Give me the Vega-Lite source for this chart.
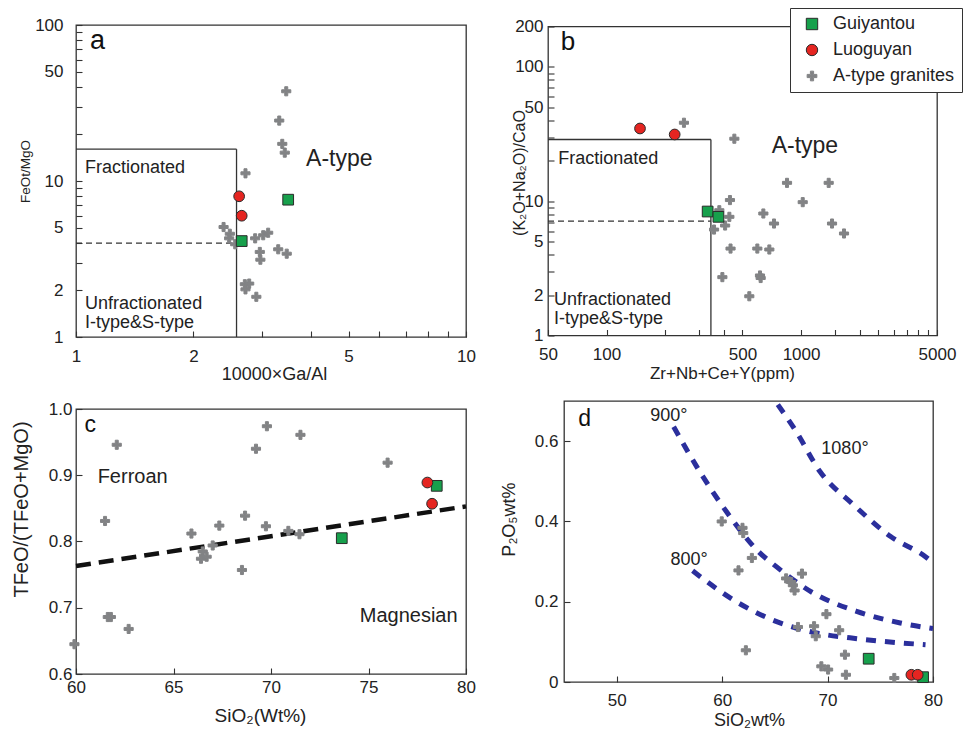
{
  "$schema": "https://vega.github.io/schema/vega-lite/v6.json",
  "background": "white",
  "padding": {"left": 10, "top": 7, "right": 0, "bottom": 0},
  "config": {
    "font": "Liberation Sans",
    "view": {"stroke": "#333", "strokeWidth": 1.3},
    "axis": {"domain": false, "grid": false, "tickColor": "#333", "tickWidth": 1.1, "tickSize": -6, "labelColor": "#222", "titleColor": "#222", "labelFontSize": 17, "labelFlush": false, "labelOverlap": false, "titleFontWeight": "normal", "labelBound": false},
    "legend": {"orient": "none", "legendX": 714, "legendY": -17, "title": null, "labelFontSize": 18, "labelColor": "#222", "symbolSize": 130, "symbolStrokeWidth": 1, "rowPadding": 8, "padding": 7, "strokeColor": "#333", "fillColor": "white", "labelOffset": 12, "symbolOffset": 6, "cornerRadius": 0}
  },
  "datasets": {
    "a_pts": [
      {"x": 3.46, "y": 37.6, "g": "A-type granites"},
      {"x": 3.32, "y": 24.4, "g": "A-type granites"},
      {"x": 3.38, "y": 17.3, "g": "A-type granites"},
      {"x": 3.43, "y": 15.2, "g": "A-type granites"},
      {"x": 2.72, "y": 11.2, "g": "A-type granites"},
      {"x": 2.39, "y": 5.07, "g": "A-type granites"},
      {"x": 2.48, "y": 4.59, "g": "A-type granites"},
      {"x": 2.47, "y": 4.29, "g": "A-type granites"},
      {"x": 2.56, "y": 3.93, "g": "A-type granites"},
      {"x": 2.88, "y": 4.29, "g": "A-type granites"},
      {"x": 3.02, "y": 4.49, "g": "A-type granites"},
      {"x": 3.11, "y": 4.66, "g": "A-type granites"},
      {"x": 2.96, "y": 3.51, "g": "A-type granites"},
      {"x": 2.97, "y": 3.13, "g": "A-type granites"},
      {"x": 3.30, "y": 3.65, "g": "A-type granites"},
      {"x": 3.47, "y": 3.42, "g": "A-type granites"},
      {"x": 2.71, "y": 2.18, "g": "A-type granites"},
      {"x": 2.78, "y": 2.20, "g": "A-type granites"},
      {"x": 2.72, "y": 2.02, "g": "A-type granites"},
      {"x": 2.90, "y": 1.81, "g": "A-type granites"},
      {"x": 3.50, "y": 7.59, "g": "Guiyantou"},
      {"x": 2.66, "y": 4.12, "g": "Guiyantou"},
      {"x": 2.62, "y": 7.98, "g": "Luoguyan"},
      {"x": 2.66, "y": 5.99, "g": "Luoguyan"}
    ],
    "a_box": [
      {"x": 1, "x2": 2.58, "y": 16, "y2": 16},
      {"x": 2.58, "x2": 2.58, "y": 1, "y2": 16}
    ],
    "a_dash": [{"x": 1, "x2": 2.58, "y": 4, "y2": 4}],
    "a_t18": [
      {"x": 1.055, "y": 11.3, "t": "Fractionated"},
      {"x": 1.055, "y": 1.51, "t": "Unfractionated"},
      {"x": 1.055, "y": 1.147, "t": "I-type&S-type"}
    ],
    "a_t23": [{"x": 3.89, "y": 12.5, "t": "A-type"}],
    "a_tl": [{"x": 1.086, "y": 70.2, "t": "a"}],
    "b_pts": [
      {"x": 250, "y": 38.4, "g": "A-type granites"},
      {"x": 454, "y": 29.2, "g": "A-type granites"},
      {"x": 847, "y": 13.7, "g": "A-type granites"},
      {"x": 1387, "y": 13.7, "g": "A-type granites"},
      {"x": 431, "y": 10.2, "g": "A-type granites"},
      {"x": 380, "y": 8.57, "g": "A-type granites"},
      {"x": 428, "y": 7.65, "g": "A-type granites"},
      {"x": 407, "y": 6.59, "g": "A-type granites"},
      {"x": 357, "y": 6.15, "g": "A-type granites"},
      {"x": 640, "y": 8.1, "g": "A-type granites"},
      {"x": 726, "y": 6.82, "g": "A-type granites"},
      {"x": 1020, "y": 9.84, "g": "A-type granites"},
      {"x": 1443, "y": 6.82, "g": "A-type granites"},
      {"x": 1663, "y": 5.75, "g": "A-type granites"},
      {"x": 434, "y": 4.44, "g": "A-type granites"},
      {"x": 596, "y": 4.44, "g": "A-type granites"},
      {"x": 687, "y": 4.37, "g": "A-type granites"},
      {"x": 394, "y": 2.72, "g": "A-type granites"},
      {"x": 615, "y": 2.80, "g": "A-type granites"},
      {"x": 620, "y": 2.68, "g": "A-type granites"},
      {"x": 542, "y": 1.96, "g": "A-type granites"},
      {"x": 331, "y": 8.38, "g": "Guiyantou"},
      {"x": 376, "y": 7.65, "g": "Guiyantou"},
      {"x": 148.6, "y": 34.8, "g": "Luoguyan"},
      {"x": 224, "y": 31.4, "g": "Luoguyan"}
    ],
    "b_box": [
      {"x": 50, "x2": 344, "y": 28.8, "y2": 28.8},
      {"x": 344, "x2": 344, "y": 1, "y2": 28.8}
    ],
    "b_dash": [{"x": 50, "x2": 344, "y": 7.1, "y2": 7.1}],
    "b_t18": [
      {"x": 56.5, "y": 18.8, "t": "Fractionated"},
      {"x": 53.7, "y": 1.70, "t": "Unfractionated"},
      {"x": 53.7, "y": 1.228, "t": "I-type&S-type"}
    ],
    "b_t23": [{"x": 706, "y": 22.9, "t": "A-type"}],
    "b_tl": [{"x": 58.1, "y": 134.8, "t": "b"}],
    "c_pts": [
      {"x": 62.09, "y": 0.946, "g": "A-type granites"},
      {"x": 61.49, "y": 0.831, "g": "A-type granites"},
      {"x": 65.92, "y": 0.812, "g": "A-type granites"},
      {"x": 67.35, "y": 0.824, "g": "A-type granites"},
      {"x": 68.67, "y": 0.839, "g": "A-type granites"},
      {"x": 69.74, "y": 0.823, "g": "A-type granites"},
      {"x": 69.23, "y": 0.940, "g": "A-type granites"},
      {"x": 69.79, "y": 0.974, "g": "A-type granites"},
      {"x": 71.51, "y": 0.961, "g": "A-type granites"},
      {"x": 70.89, "y": 0.816, "g": "A-type granites"},
      {"x": 71.46, "y": 0.811, "g": "A-type granites"},
      {"x": 75.98, "y": 0.919, "g": "A-type granites"},
      {"x": 67.01, "y": 0.794, "g": "A-type granites"},
      {"x": 66.50, "y": 0.785, "g": "A-type granites"},
      {"x": 66.41, "y": 0.774, "g": "A-type granites"},
      {"x": 66.70, "y": 0.777, "g": "A-type granites"},
      {"x": 68.51, "y": 0.757, "g": "A-type granites"},
      {"x": 59.92, "y": 0.645, "g": "A-type granites"},
      {"x": 61.79, "y": 0.686, "g": "A-type granites"},
      {"x": 61.63, "y": 0.686, "g": "A-type granites"},
      {"x": 62.70, "y": 0.668, "g": "A-type granites"},
      {"x": 78.50, "y": 0.884, "g": "Guiyantou"},
      {"x": 73.63, "y": 0.805, "g": "Guiyantou"},
      {"x": 78.02, "y": 0.889, "g": "Luoguyan"},
      {"x": 78.26, "y": 0.857, "g": "Luoguyan"}
    ],
    "c_line": [{"x": 60, "y": 0.763}, {"x": 80, "y": 0.853}],
    "c_t20": [{"x": 61.11, "y": 0.888, "t": "Ferroan"}],
    "c_t20r": [{"x": 79.57, "y": 0.679, "t": "Magnesian"}],
    "c_tl": [{"x": 60.43, "y": 0.966, "t": "c"}],
    "d_pts": [
      {"x": 59.96, "y": 0.400, "g": "A-type granites"},
      {"x": 61.93, "y": 0.384, "g": "A-type granites"},
      {"x": 62.0, "y": 0.371, "g": "A-type granites"},
      {"x": 62.82, "y": 0.309, "g": "A-type granites"},
      {"x": 61.55, "y": 0.278, "g": "A-type granites"},
      {"x": 66.07, "y": 0.258, "g": "A-type granites"},
      {"x": 66.55, "y": 0.249, "g": "A-type granites"},
      {"x": 66.71, "y": 0.241, "g": "A-type granites"},
      {"x": 66.87, "y": 0.228, "g": "A-type granites"},
      {"x": 67.57, "y": 0.270, "g": "A-type granites"},
      {"x": 69.89, "y": 0.169, "g": "A-type granites"},
      {"x": 67.19, "y": 0.137, "g": "A-type granites"},
      {"x": 68.72, "y": 0.139, "g": "A-type granites"},
      {"x": 68.88, "y": 0.114, "g": "A-type granites"},
      {"x": 71.10, "y": 0.129, "g": "A-type granites"},
      {"x": 62.25, "y": 0.079, "g": "A-type granites"},
      {"x": 71.65, "y": 0.068, "g": "A-type granites"},
      {"x": 69.41, "y": 0.039, "g": "A-type granites"},
      {"x": 70.05, "y": 0.031, "g": "A-type granites"},
      {"x": 71.74, "y": 0.018, "g": "A-type granites"},
      {"x": 76.33, "y": 0.010, "g": "A-type granites"},
      {"x": 73.90, "y": 0.058, "g": "Guiyantou"},
      {"x": 79.06, "y": 0.012, "g": "Guiyantou"},
      {"x": 77.95, "y": 0.018, "g": "Luoguyan"},
      {"x": 78.55, "y": 0.018, "g": "Luoguyan"}
    ],
    "d_curves": [
      {"c": "1080", "x": 65.28, "y": 0.691},
      {"c": "1080", "x": 67.02, "y": 0.624},
      {"c": "1080", "x": 69.26, "y": 0.525},
      {"c": "1080", "x": 72.44, "y": 0.442},
      {"c": "1080", "x": 75.95, "y": 0.363},
      {"c": "1080", "x": 79.44, "y": 0.309},
      {"c": "1080", "x": 80.0, "y": 0.297},
      {"c": "900", "x": 55.4, "y": 0.636},
      {"c": "900", "x": 57.95, "y": 0.521},
      {"c": "900", "x": 60.50, "y": 0.421},
      {"c": "900", "x": 63.4, "y": 0.326},
      {"c": "900", "x": 65.11, "y": 0.288},
      {"c": "900", "x": 68.62, "y": 0.222},
      {"c": "900", "x": 72.76, "y": 0.176},
      {"c": "900", "x": 76.9, "y": 0.147},
      {"c": "900", "x": 80.0, "y": 0.133},
      {"c": "800", "x": 57.2, "y": 0.277},
      {"c": "800", "x": 61.29, "y": 0.201},
      {"c": "800", "x": 65.11, "y": 0.151},
      {"c": "800", "x": 68.94, "y": 0.122},
      {"c": "800", "x": 72.12, "y": 0.110},
      {"c": "800", "x": 75.3, "y": 0.101},
      {"c": "800", "x": 79.29, "y": 0.093}
    ],
    "d_t": [
      {"x": 53.18, "y": 0.649, "t": "900°"},
      {"x": 69.41, "y": 0.569, "t": "1080°"},
      {"x": 55.09, "y": 0.291, "t": "800°"}
    ],
    "d_tl": [{"x": 46.34, "y": 0.637, "t": "d"}]
  },
  "vconcat": [
    {
      "hconcat": [
        {
          "width": 390,
          "height": 312,
          "encoding": {
            "x": {"field": "x", "type": "quantitative", "scale": {"type": "log", "domain": [1, 10], "nice": false},
              "axis": {"title": "10000×Ga/Al", "values": [1, 2, 3, 4, 5, 6, 7, 8, 9, 10], "labelExpr": "indexof([1,2,5,10], datum.value) >= 0 ? format(datum.value, '~g') : ''", "labelPadding": 17, "titleFontSize": 18, "titleBaseline": "middle", "titleX": 198, "titleY": 37}},
            "y": {"field": "y", "type": "quantitative", "scale": {"type": "log", "domain": [1, 100], "nice": false},
              "axis": {"title": "FeOt/MgO", "values": [1, 2, 3, 4, 5, 6, 7, 8, 9, 10, 20, 30, 40, 50, 60, 70, 80, 90, 100], "labelExpr": "indexof([1,2,5,10,50,100], datum.value) >= 0 ? format(datum.value, '~g') : ''", "labelPadding": 19, "titleFontSize": 13.5, "titleBaseline": "middle", "titleX": -51, "titleY": 146}}
          },
          "layer": [
            {"data": {"name": "a_box"}, "mark": {"type": "rule", "color": "#333", "strokeWidth": 1.3}, "encoding": {"x2": {"field": "x2"}, "y2": {"field": "y2"}}},
            {"data": {"name": "a_dash"}, "mark": {"type": "rule", "color": "#333", "strokeWidth": 1.2, "strokeDash": [6, 4]}, "encoding": {"x2": {"field": "x2"}, "y2": {"field": "y2"}}},
            {"data": {"name": "a_pts"}, "mark": {"type": "point", "filled": true, "size": 115, "strokeWidth": 1, "opacity": 1},
              "encoding": {
                "shape": {"field": "g", "type": "nominal", "scale": {"domain": ["Guiyantou", "Luoguyan", "A-type granites"], "range": ["square", "circle", "M-0.28,-0.85H0.28V-0.28H0.85V0.28H0.28V0.85H-0.28V0.28H-0.85V-0.28H-0.28Z"]}},
                "fill": {"field": "g", "type": "nominal", "scale": {"domain": ["Guiyantou", "Luoguyan", "A-type granites"], "range": ["#17a04c", "#e52521", "#828385"]}},
                "stroke": {"field": "g", "type": "nominal", "scale": {"domain": ["Guiyantou", "Luoguyan", "A-type granites"], "range": ["#2a2a2a", "#2a2a2a", "#828385"]}}
              }},
            {"data": {"name": "a_t18"}, "mark": {"type": "text", "align": "left", "baseline": "alphabetic", "fontSize": 18, "color": "#222"}, "encoding": {"text": {"field": "t"}}},
            {"data": {"name": "a_t23"}, "mark": {"type": "text", "align": "left", "baseline": "alphabetic", "fontSize": 23, "color": "#222"}, "encoding": {"text": {"field": "t"}}},
            {"data": {"name": "a_tl"}, "mark": {"type": "text", "align": "left", "baseline": "alphabetic", "fontSize": 27, "color": "#111"}, "encoding": {"text": {"field": "t"}}}
          ]
        },
        {
          "width": 389,
          "height": 309,
          "encoding": {
            "x": {"field": "x", "type": "quantitative", "scale": {"type": "log", "domain": [50, 5000], "nice": false},
              "axis": {"title": "Zr+Nb+Ce+Y(ppm)", "values": [50, 100, 200, 300, 400, 500, 1000, 1500, 2000, 2500, 3000, 3500, 4000, 4500, 5000], "labelExpr": "indexof([50,100,500,1000,5000], datum.value) >= 0 ? format(datum.value, '~g') : ''", "labelPadding": 17, "titleFontSize": 17, "titleBaseline": "middle", "titleX": 174, "titleY": 38}},
            "y": {"field": "y", "type": "quantitative", "scale": {"type": "log", "domain": [1, 200], "nice": false},
              "axis": {"title": "(K₂O+Na₂O)/CaO", "values": [1, 2, 3, 4, 5, 6, 7, 8, 9, 10, 20, 30, 40, 50, 60, 70, 80, 90, 100, 200], "labelExpr": "indexof([1,2,5,10,50,100,200], datum.value) >= 0 ? format(datum.value, '~g') : ''", "labelPadding": 11, "titleFontSize": 16, "titleBaseline": "middle", "titleX": -29, "titleY": 146}}
          },
          "layer": [
            {"data": {"name": "b_box"}, "mark": {"type": "rule", "color": "#333", "strokeWidth": 1.3}, "encoding": {"x2": {"field": "x2"}, "y2": {"field": "y2"}}},
            {"data": {"name": "b_dash"}, "mark": {"type": "rule", "color": "#333", "strokeWidth": 1.2, "strokeDash": [6, 4]}, "encoding": {"x2": {"field": "x2"}, "y2": {"field": "y2"}}},
            {"data": {"name": "b_pts"}, "mark": {"type": "point", "filled": true, "size": 115, "strokeWidth": 1, "opacity": 1},
              "encoding": {
                "shape": {"field": "g", "type": "nominal", "scale": {"domain": ["Guiyantou", "Luoguyan", "A-type granites"], "range": ["square", "circle", "M-0.28,-0.85H0.28V-0.28H0.85V0.28H0.28V0.85H-0.28V0.28H-0.85V-0.28H-0.28Z"]}},
                "fill": {"field": "g", "type": "nominal", "scale": {"domain": ["Guiyantou", "Luoguyan", "A-type granites"], "range": ["#17a04c", "#e52521", "#828385"]}},
                "stroke": {"field": "g", "type": "nominal", "scale": {"domain": ["Guiyantou", "Luoguyan", "A-type granites"], "range": ["#2a2a2a", "#2a2a2a", "#828385"]}}
              }},
            {"data": {"name": "b_t18"}, "mark": {"type": "text", "align": "left", "baseline": "alphabetic", "fontSize": 18, "color": "#222"}, "encoding": {"text": {"field": "t"}}},
            {"data": {"name": "b_t23"}, "mark": {"type": "text", "align": "left", "baseline": "alphabetic", "fontSize": 23, "color": "#222"}, "encoding": {"text": {"field": "t"}}},
            {"data": {"name": "b_tl"}, "mark": {"type": "text", "align": "left", "baseline": "alphabetic", "fontSize": 26, "color": "#111"}, "encoding": {"text": {"field": "t"}}}
          ]
        }
      ],
      "spacing": 82,
      "bounds": "flush",
      "center": true
    },
    {
      "hconcat": [
        {
          "width": 390,
          "height": 265,
          "encoding": {
            "x": {"field": "x", "type": "quantitative", "scale": {"domain": [60, 80], "nice": false, "zero": false},
              "axis": {"title": "SiO₂(Wt%)", "values": [60, 65, 70, 75, 80], "labelExpr": "format(datum.value, '~g')", "labelPadding": 11, "titleFontSize": 19, "titleBaseline": "middle", "titleX": 184, "titleY": 41}},
            "y": {"field": "y", "type": "quantitative", "scale": {"domain": [0.6, 1.0], "nice": false, "zero": false},
              "axis": {"title": "TFeO/(TFeO+MgO)", "values": [0.6, 0.7, 0.8, 0.9, 1.0], "labelExpr": "format(datum.value, '.1f')", "labelPadding": 10, "titleFontSize": 20, "titleBaseline": "middle", "titleX": -55, "titleY": 100}}
          },
          "layer": [
            {"data": {"name": "c_line"}, "mark": {"type": "line", "color": "#111", "strokeWidth": 4.5, "strokeDash": [15, 8]}},
            {"data": {"name": "c_pts"}, "mark": {"type": "point", "filled": true, "size": 115, "strokeWidth": 1, "opacity": 1},
              "encoding": {
                "shape": {"field": "g", "type": "nominal", "scale": {"domain": ["Guiyantou", "Luoguyan", "A-type granites"], "range": ["square", "circle", "M-0.28,-0.85H0.28V-0.28H0.85V0.28H0.28V0.85H-0.28V0.28H-0.85V-0.28H-0.28Z"]}},
                "fill": {"field": "g", "type": "nominal", "scale": {"domain": ["Guiyantou", "Luoguyan", "A-type granites"], "range": ["#17a04c", "#e52521", "#828385"]}},
                "stroke": {"field": "g", "type": "nominal", "scale": {"domain": ["Guiyantou", "Luoguyan", "A-type granites"], "range": ["#2a2a2a", "#2a2a2a", "#828385"]}}
              }},
            {"data": {"name": "c_t20"}, "mark": {"type": "text", "align": "left", "baseline": "alphabetic", "fontSize": 20, "color": "#222"}, "encoding": {"text": {"field": "t"}}},
            {"data": {"name": "c_t20r"}, "mark": {"type": "text", "align": "right", "baseline": "alphabetic", "fontSize": 20, "color": "#222"}, "encoding": {"text": {"field": "t"}}},
            {"data": {"name": "c_tl"}, "mark": {"type": "text", "align": "left", "baseline": "alphabetic", "fontSize": 23, "color": "#111"}, "encoding": {"text": {"field": "t"}}}
          ]
        },
        {
          "width": 369,
          "height": 281,
          "encoding": {
            "x": {"field": "x", "type": "quantitative", "scale": {"domain": [45, 80], "nice": false, "zero": false},
              "axis": {"title": "SiO₂wt%", "values": [50, 60, 70, 80], "labelExpr": "format(datum.value, '~g')", "labelPadding": 16, "titleFontSize": 18, "titleBaseline": "middle", "titleX": 185, "titleY": 38}},
            "y": {"field": "y", "type": "quantitative", "scale": {"domain": [0, 0.7], "nice": false},
              "axis": {"title": "P₂O₅wt%", "values": [0, 0.2, 0.4, 0.6], "labelExpr": "format(datum.value, '~g')", "labelPadding": 12, "titleFontSize": 18, "titleBaseline": "middle", "titleX": -55, "titleY": 118}}
          },
          "layer": [
            {"data": {"name": "d_curves"}, "mark": {"type": "line", "color": "#2b2f9c", "strokeWidth": 5, "strokeDash": [10, 9], "interpolate": "monotone", "clip": true}, "encoding": {"detail": {"field": "c"}}},
            {"data": {"name": "d_pts"}, "mark": {"type": "point", "filled": true, "size": 115, "strokeWidth": 1, "opacity": 1},
              "encoding": {
                "shape": {"field": "g", "type": "nominal", "scale": {"domain": ["Guiyantou", "Luoguyan", "A-type granites"], "range": ["square", "circle", "M-0.28,-0.85H0.28V-0.28H0.85V0.28H0.28V0.85H-0.28V0.28H-0.85V-0.28H-0.28Z"]}},
                "fill": {"field": "g", "type": "nominal", "scale": {"domain": ["Guiyantou", "Luoguyan", "A-type granites"], "range": ["#17a04c", "#e52521", "#828385"]}},
                "stroke": {"field": "g", "type": "nominal", "scale": {"domain": ["Guiyantou", "Luoguyan", "A-type granites"], "range": ["#2a2a2a", "#2a2a2a", "#828385"]}}
              }},
            {"data": {"name": "d_t"}, "mark": {"type": "text", "align": "left", "baseline": "alphabetic", "fontSize": 18, "color": "#222"}, "encoding": {"text": {"field": "t"}}},
            {"data": {"name": "d_tl"}, "mark": {"type": "text", "align": "left", "baseline": "alphabetic", "fontSize": 23, "color": "#111"}, "encoding": {"text": {"field": "t"}}}
          ]
        }
      ],
      "spacing": 98,
      "bounds": "flush",
      "center": true
    }
  ],
  "spacing": 15,
  "bounds": "full"
}
